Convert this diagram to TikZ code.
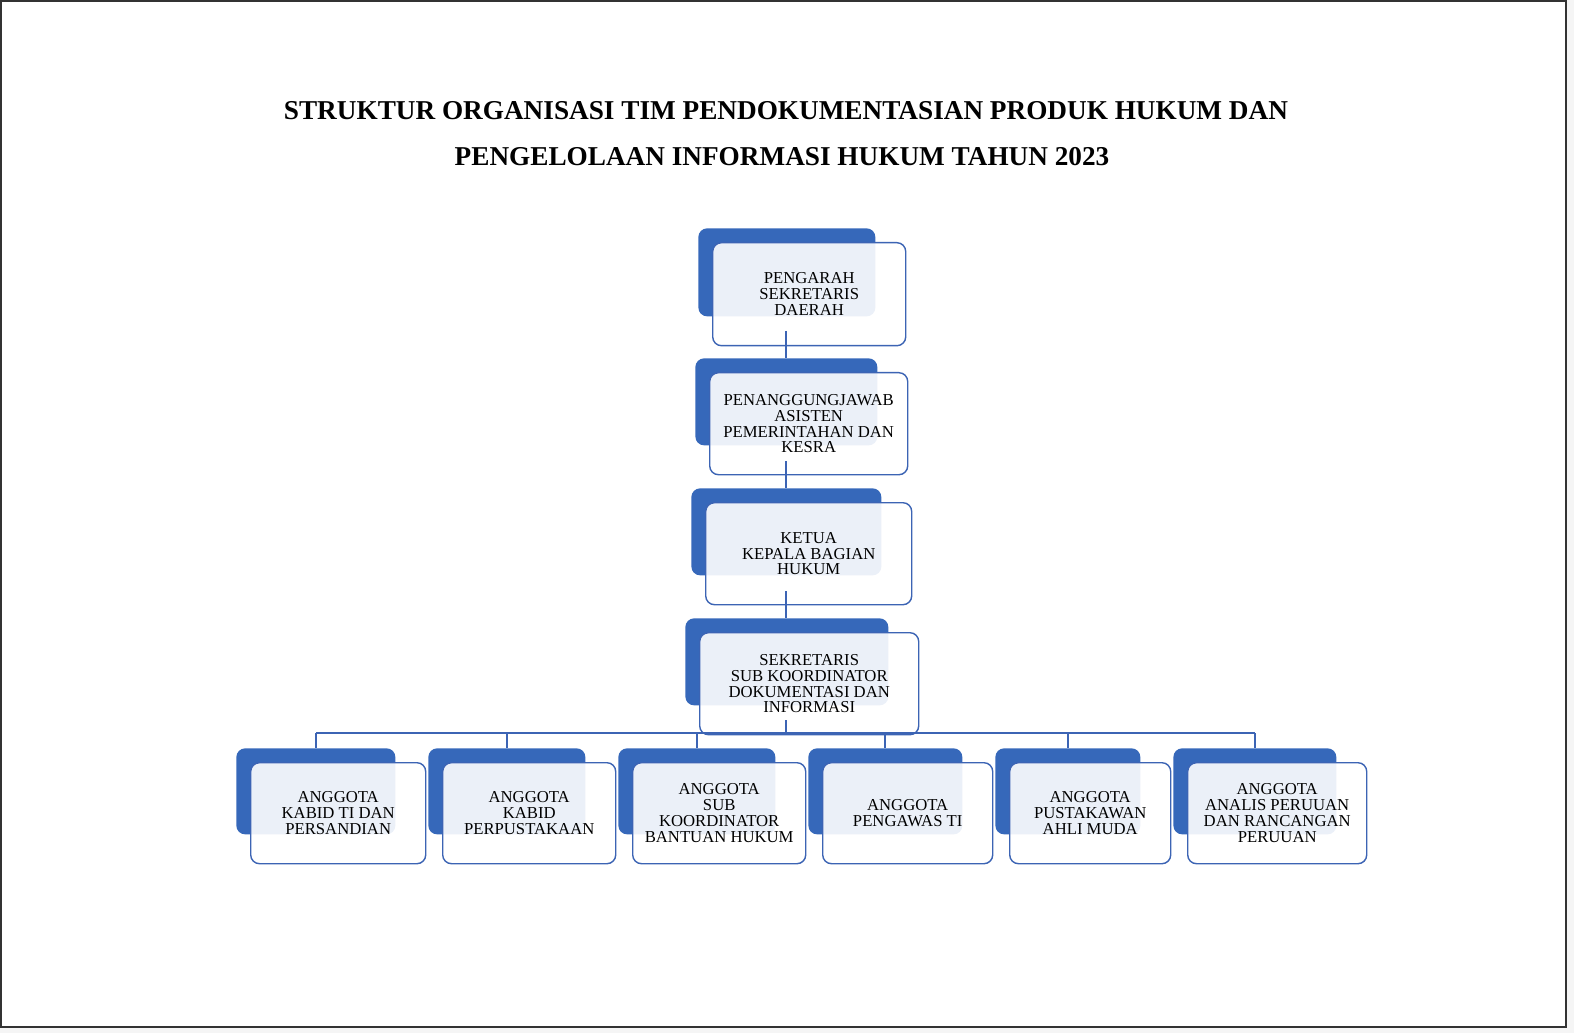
\documentclass[tikz,border=0pt]{standalone}
\usepackage{fontspec}
\setmainfont{Liberation Serif}
\usetikzlibrary{positioning}
\definecolor{orgblue}{RGB}{54,104,186}
\definecolor{orgline}{RGB}{60,100,180}
\tikzset{
  backbox/.style={draw=none,fill=orgblue,rounded corners=5,inner sep=0},
  frontbox/.style={draw=orgline,thick,fill=white,fill opacity=0.9,text opacity=1,
    rounded corners=5,inner sep=0,align=center,font=\fontsize{9.5}{9}\selectfont},
  link/.style={draw=orgline,semithick}
}
% back box, front box: name, x1, y1, x2, y2 of back, front offset fixed
\newcommand{\orgbox}[6]{%
  \node[backbox,minimum width={(#4-#2)*0.02cm},minimum height={(#5-#3)*0.02cm},anchor=north west]
    (#1b) at (#2,#3) {};
  \node[frontbox,minimum width={(#4-#2+16)*0.02cm},minimum height={(#5-#3+15)*0.02cm},anchor=north west]
    (#1) at (#2+14,#3+14) {#6};}
\begin{document}
\begin{tikzpicture}[x=0.02cm,y=-0.02cm]
\useasboundingbox (0,0) rectangle (1574,1033);
\fill[gray!8] (0,0) rectangle (1574,1033);
\draw[fill=white,draw=black!80,line width=1.5pt] (1,1) rectangle (1566,1027);
%title
\node[font=\bfseries\fontsize{15.5}{15}\selectfont] (title1) at (786,111) {STRUKTUR ORGANISASI TIM PENDOKUMENTASIAN PRODUK HUKUM DAN};
\node[font=\bfseries\fontsize{15.5}{15}\selectfont] (title2) at (782,157) {PENGELOLAAN INFORMASI HUKUM TAHUN 2023};
%boxes
\orgbox{pengarah}{698}{228}{875}{316}{PENGARAH\\SEKRETARIS\\DAERAH}
\orgbox{pj}{695}{358}{877}{445}{PENANGGUNGJAWAB\\ASISTEN\\PEMERINTAHAN DAN\\KESRA}
\orgbox{ketua}{691}{488}{881}{575}{KETUA\\KEPALA BAGIAN\\HUKUM}
\orgbox{sekr}{685}{618}{888}{705}{SEKRETARIS\\SUB KOORDINATOR\\DOKUMENTASI DAN\\INFORMASI}
\orgbox{a1}{236}{748}{395}{834}{ANGGOTA\\KABID TI DAN\\PERSANDIAN}
\orgbox{a2}{428}{748}{585}{834}{ANGGOTA\\KABID\\PERPUSTAKAAN}
\orgbox{a3}{618}{748}{775}{834}{ANGGOTA\\SUB\\KOORDINATOR\\BANTUAN HUKUM}
\orgbox{a4}{808}{748}{962}{834}{ANGGOTA\\PENGAWAS TI}
\orgbox{a5}{995}{748}{1140}{834}{ANGGOTA\\PUSTAKAWAN\\AHLI MUDA}
\orgbox{a6}{1173}{748}{1336}{834}{ANGGOTA\\ANALIS PERUUAN\\DAN RANCANGAN\\PERUUAN}
%links
\draw[link] (786,331) -- (786,358);
\draw[link] (786,461) -- (786,488);
\draw[link] (786,591) -- (786,618);
\coordinate (bus) at (786,733);
\draw[link] (786,720) -- (bus);
\draw[link] (316,733) -- (1255,733);
\foreach \x/\n in {316/a1,507/a2,697/a3,885/a4,1068/a5,1255/a6}
  \draw[link] (\x,733) -- (\x,748);
\end{tikzpicture}
\end{document}
